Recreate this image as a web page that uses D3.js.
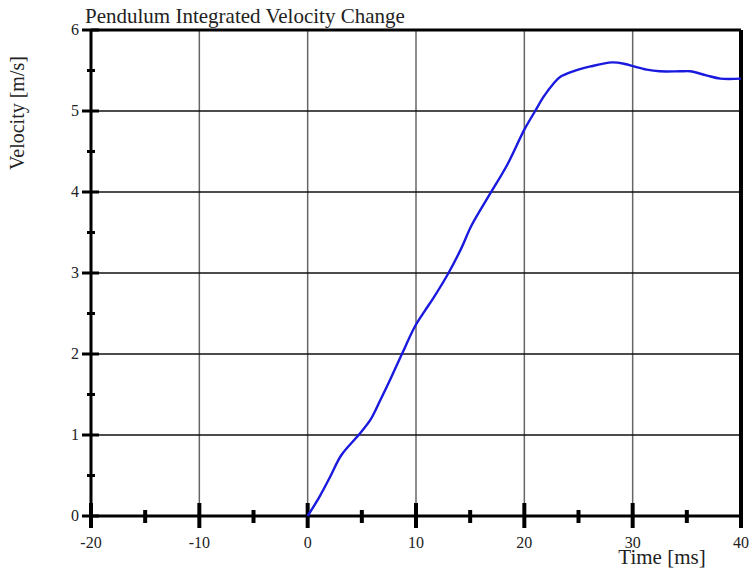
<!DOCTYPE html>
<html>
<head>
<meta charset="utf-8">
<script src="https://cdn.jsdelivr.net/npm/d3@7"></script>
<style>
  html, body { margin: 0; padding: 0; background: #fff; }
  svg { display: block; }
  text { font-family: "Liberation Serif", "Times New Roman", serif; fill: #222; }
</style>
</head>
<body>
<script>
// Integrated pendulum velocity vs time
const timeMs = [0, 1.1, 2.1, 3.1, 4.7, 5.8, 6.7, 7.6, 8.7, 9.9, 10.8, 11.6, 13.0, 14.2, 15.1, 16.8, 18.4, 20.0, 21.0, 21.8, 22.7, 23.3, 24.5, 26.1, 28.1, 29.3, 30.1, 31.3, 32.5, 34.4, 35.3, 36.8, 38.1, 40];
const velocity = [0, 0.24, 0.49, 0.75, 1.0, 1.19, 1.43, 1.68, 2.0, 2.34, 2.53, 2.69, 3.0, 3.31, 3.58, 3.97, 4.33, 4.77, 5.0, 5.18, 5.34, 5.42, 5.49, 5.55, 5.60, 5.58, 5.55, 5.51, 5.49, 5.49, 5.49, 5.44, 5.40, 5.40];
const xMajorTicks = [-20, -10, 0, 10, 20, 30, 40];
const xMinorTicks = [-15, -5, 5, 15, 25, 35];
const yMajorTicks = [0, 1, 2, 3, 4, 5, 6];
const yMinorTicks = [0.5, 1.5, 2.5, 3.5, 4.5, 5.5];

const W = 749, H = 571;
const svg = d3.select("body").append("svg").attr("width", W).attr("height", H);

const x = d3.scaleLinear().domain([-20, 40]).range([91, 741]);
const y = d3.scaleLinear().domain([0, 6]).range([516, 30]);

// grid
svg.append("g").selectAll("line").data(xMajorTicks.filter(d => d > -20 && d < 40)).join("line")
  .attr("x1", d => x(d)).attr("x2", d => x(d)).attr("y1", y(6)).attr("y2", y(0))
  .attr("stroke", "#666").attr("stroke-width", 1.5);
svg.append("g").selectAll("line").data(yMajorTicks.filter(d => d > 0 && d < 6)).join("line")
  .attr("x1", x(-20)).attr("x2", x(40)).attr("y1", d => y(d)).attr("y2", d => y(d))
  .attr("stroke", "#111").attr("stroke-width", 1.3);

// frame: top and right edges
svg.append("line").attr("x1", x(-20)).attr("x2", x(40)).attr("y1", y(6)).attr("y2", y(6))
  .attr("stroke", "#000").attr("stroke-width", 3);
svg.append("line").attr("x1", x(40)).attr("x2", x(40)).attr("y1", y(6)).attr("y2", y(0))
  .attr("stroke", "#000").attr("stroke-width", 4);

// x axis
const xAxis = svg.append("g");
xAxis.append("line").attr("x1", x(-20)).attr("x2", x(40)).attr("y1", y(0)).attr("y2", y(0))
  .attr("stroke", "#000").attr("stroke-width", 3);
xAxis.selectAll("line.maj").data(xMajorTicks).join("line").attr("class", "maj")
  .attr("x1", d => x(d)).attr("x2", d => x(d)).attr("y1", y(0) - 13).attr("y2", y(0) + 12)
  .attr("stroke", "#000").attr("stroke-width", 4);
xAxis.selectAll("line.min").data(xMinorTicks).join("line").attr("class", "min")
  .attr("x1", d => x(d)).attr("x2", d => x(d)).attr("y1", y(0) - 6).attr("y2", y(0) + 7)
  .attr("stroke", "#000").attr("stroke-width", 4);
xAxis.selectAll("text").data(xMajorTicks).join("text")
  .attr("x", d => x(d)).attr("y", y(0) + 32)
  .attr("text-anchor", "middle").attr("font-size", 16).text(d => d);

// y axis
const yAxis = svg.append("g");
yAxis.append("line").attr("x1", x(-20)).attr("x2", x(-20)).attr("y1", y(6)).attr("y2", y(0))
  .attr("stroke", "#000").attr("stroke-width", 3);
yAxis.selectAll("line.maj").data(yMajorTicks).join("line").attr("class", "maj")
  .attr("x1", x(-20) - 9).attr("x2", x(-20) + 8).attr("y1", d => y(d)).attr("y2", d => y(d))
  .attr("stroke", "#000").attr("stroke-width", 3);
yAxis.selectAll("line.min").data(yMinorTicks).join("line").attr("class", "min")
  .attr("x1", x(-20) - 4).attr("x2", x(-20) + 4).attr("y1", d => y(d)).attr("y2", d => y(d))
  .attr("stroke", "#000").attr("stroke-width", 3);
yAxis.selectAll("text").data(yMajorTicks).join("text")
  .attr("x", x(-20) - 12).attr("y", d => y(d) + 5)
  .attr("text-anchor", "end").attr("font-size", 16).text(d => d);

// velocity trace
const line = d3.line()
  .x((d, i) => x(timeMs[i]))
  .y(d => y(d))
  .curve(d3.curveCatmullRom.alpha(0.5));
svg.append("path").datum(velocity)
  .attr("d", line)
  .attr("fill", "none").attr("stroke", "#1a1adf").attr("stroke-width", 2.4)
  .attr("stroke-linejoin", "round");

// titles
svg.append("text").attr("x", 85).attr("y", 23).attr("font-size", 21)
  .text("Pendulum Integrated Velocity Change");
svg.append("text").attr("x", 662).attr("y", 564).attr("text-anchor", "middle").attr("font-size", 21)
  .text("Time [ms]");
svg.append("text").attr("transform", "translate(24,113) rotate(-90)")
  .attr("text-anchor", "middle").attr("font-size", 20)
  .text("Velocity [m/s]");
</script>
</body>
</html>
